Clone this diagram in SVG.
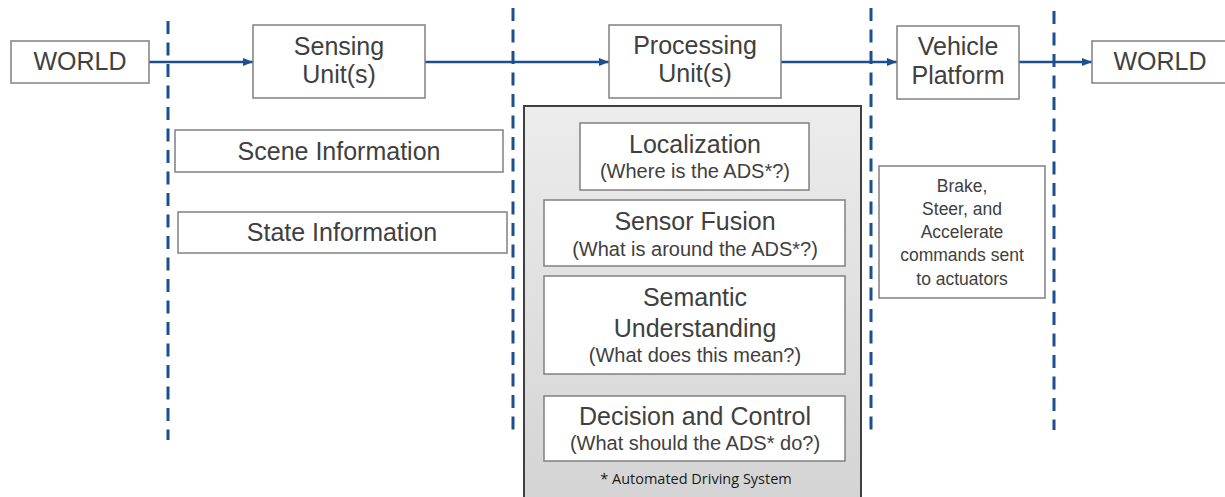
<svg xmlns="http://www.w3.org/2000/svg" width="1225" height="497" viewBox="0 0 1225 497">
<defs>
<marker id="ah" viewBox="0 0 10 10" refX="10" refY="5" markerWidth="10" markerHeight="10" markerUnits="userSpaceOnUse" orient="auto"><path d="M0,1 L10,5 L0,9 z" fill="#1b4f8f"/></marker>
<linearGradient id="pg" x1="0" y1="0" x2="0" y2="1"><stop offset="0" stop-color="#ececec"/><stop offset="1" stop-color="#d4d4d4"/></linearGradient>
<style>
.box{fill:#fff;stroke:#808080;stroke-width:1.5}
.t{font-family:"Liberation Sans",Arial,sans-serif;fill:#404040;text-anchor:middle}
.big{font-size:25px}
.sub{font-size:20px}
.sm{font-size:17.5px}
.fn{font-family:"Open Sans","Liberation Sans",sans-serif;font-size:14.5px;fill:#1a1a1a;text-anchor:middle}
.dash{stroke:#1b4f8f;stroke-width:3;stroke-dasharray:13 8.5;fill:none}
.arr{stroke:#1b4f8f;stroke-width:2.5;fill:none;marker-end:url(#ah)}
</style>
</defs>
<rect width="1225" height="497" fill="#fff"/>
<g id="dividers">
<line class="dash" x1="168" y1="21" x2="168" y2="440"/>
<line class="dash" x1="513" y1="8" x2="513" y2="430"/>
<line class="dash" x1="871" y1="8" x2="871" y2="430"/>
<line class="dash" x1="1054" y1="11" x2="1054" y2="430"/>
</g>
<g id="connectors">
<line class="arr" x1="149" y1="62" x2="253" y2="62"/>
<line class="arr" x1="425" y1="62" x2="609" y2="62"/>
<line class="arr" x1="781" y1="62" x2="897" y2="62"/>
<line class="arr" x1="1019" y1="62" x2="1092" y2="62"/>
</g>
<g id="world-left"><rect class="box" x="11" y="41" width="138" height="42"/><text class="t big" x="80" y="70">WORLD</text></g>
<g id="sensing"><rect class="box" x="253" y="25" width="172" height="73"/><text class="t big" x="339" y="55">Sensing</text><text class="t big" x="339" y="83">Unit(s)</text></g>
<g id="processing"><rect class="box" x="609" y="25" width="172" height="73"/><text class="t big" x="695" y="54">Processing</text><text class="t big" x="695" y="82">Unit(s)</text></g>
<g id="vehicle"><rect class="box" x="897" y="26" width="122" height="73"/><text class="t big" x="958" y="55">Vehicle</text><text class="t big" x="958" y="84">Platform</text></g>
<g id="world-right"><rect class="box" x="1092" y="41" width="134" height="42"/><text class="t big" x="1160" y="70">WORLD</text></g>
<g id="scene"><rect class="box" x="175" y="130" width="328" height="42"/><text class="t big" x="339" y="160">Scene Information</text></g>
<g id="state"><rect class="box" x="178" y="212" width="329" height="41"/><text class="t big" x="342" y="241">State Information</text></g>
<g id="panel"><rect x="524" y="106" width="337" height="395" fill="url(#pg)" stroke="#404040" stroke-width="2"/>
<text class="fn" x="696" y="484">* Automated Driving System</text></g>
<g id="localization"><rect class="box" x="580" y="123" width="229" height="67"/><text class="t big" x="695" y="153">Localization</text><text class="t sub" x="695" y="178">(Where is the ADS*?)</text></g>
<g id="fusion"><rect class="box" x="544" y="200" width="301" height="66"/><text class="t big" x="695" y="230">Sensor Fusion</text><text class="t sub" x="695" y="256">(What is around the ADS*?)</text></g>
<g id="semantic"><rect class="box" x="544" y="276" width="301" height="98"/><text class="t big" x="695" y="306">Semantic</text><text class="t big" x="695" y="337">Understanding</text><text class="t sub" x="695" y="362">(What does this mean?)</text></g>
<g id="decision"><rect class="box" x="544" y="396" width="301" height="65"/><text class="t big" x="695" y="425">Decision and Control</text><text class="t sub" x="695" y="450">(What should the ADS* do?)</text></g>
<g id="commands"><rect class="box" x="879" y="166" width="166" height="132"/>
<text class="t sm" x="962" y="192">Brake,</text><text class="t sm" x="962" y="215">Steer, and</text><text class="t sm" x="962" y="238">Accelerate</text><text class="t sm" x="962" y="261">commands sent</text><text class="t sm" x="962" y="285">to actuators</text></g>
</svg>
